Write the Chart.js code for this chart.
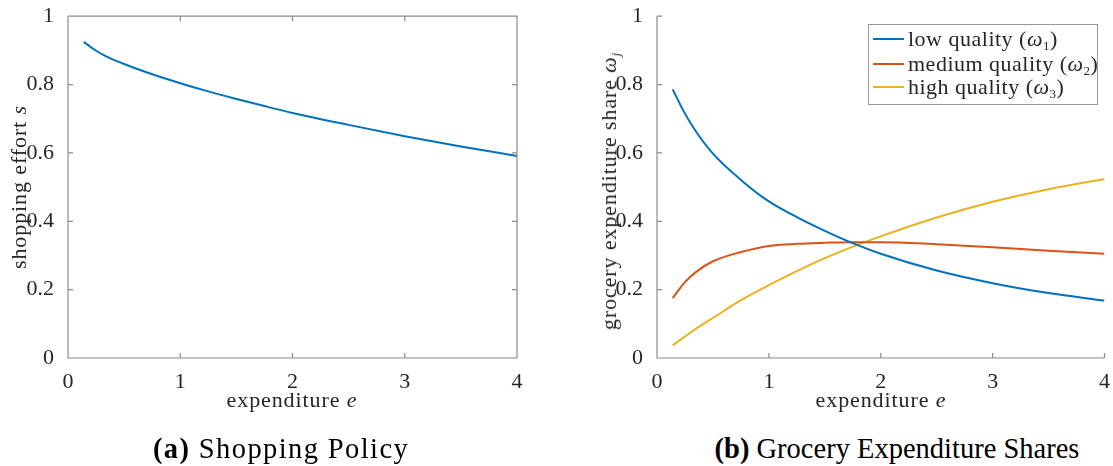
<!DOCTYPE html>
<html>
<head>
<meta charset="utf-8">
<script src="https://cdn.jsdelivr.net/npm/chart.js@4.4.0/dist/chart.umd.min.js"></script>
<style>
  html, body { margin:0; padding:0; background:#fff; }
  body { width:1113px; height:466px; position:relative; overflow:hidden;
         font-family:"Liberation Serif", serif; color:#262626; }
  .box { position:absolute; top:-3px; height:403px; }
  .lbl { position:absolute; font-size:22px; letter-spacing:0.9px; white-space:nowrap; transform:translate(-50%,-50%); }
  .rot { transform:translate(-50%,-50%) rotate(-90deg); }
  .cap { position:absolute; font-size:28.5px; color:#000; white-space:nowrap; transform:translate(-50%,-50%); }
  .legend { position:absolute; left:868px; top:24px; width:228px; height:79px;
            border:1px solid #999; background:#fff; font-size:22px; letter-spacing:0.5px; }
  .legend .row { position:absolute; left:4px; height:24px; display:flex; align-items:center; white-space:nowrap; }
  .legend .sw { width:31px; height:2px; margin-right:4px; }
  sub { font-size:13px; vertical-align:-4px; line-height:0; font-style:normal; }
</style>
</head>
<body>
<div class="box" style="left:0;width:560px"><canvas id="left"></canvas></div>
<div class="box" style="left:590px;width:523px"><canvas id="right"></canvas></div>

<div class="lbl rot" style="left:19px;top:187px">shopping effort <i>s</i></div>
<div class="lbl" style="left:292px;top:400px">expenditure <i>e</i></div>
<div class="lbl rot" style="left:609px;top:191px">grocery expenditure share <i>ω<sub style="font-style:italic">j</sub></i></div>
<div class="lbl" style="left:881px;top:400px">expenditure <i>e</i></div>

<div class="cap" style="left:281px;top:449px;letter-spacing:1.4px"><b>(a)</b> Shopping Policy</div>
<div class="cap" style="left:897px;top:449px"><b>(b)</b> Grocery Expenditure Shares</div>

<div class="legend">
  <div class="row" style="top:2px"><span class="sw" style="background:#0072BD"></span><span>low quality (<i>ω</i><sub>1</sub>)</span></div>
  <div class="row" style="top:27px"><span class="sw" style="background:#D95319"></span><span>medium quality (<i>ω</i><sub>2</sub>)</span></div>
  <div class="row" style="top:50px"><span class="sw" style="background:#EDB120"></span><span>high quality (<i>ω</i><sub>3</sub>)</span></div>
</div>

<script>
// values
const expenditure    = [0.14, 0.25, 0.35, 0.5, 0.75, 1, 1.25, 1.5, 1.75, 2, 2.5, 3, 3.5, 4];
const shoppingEffort = [0.925, 0.899, 0.881, 0.860, 0.830, 0.804, 0.780, 0.758, 0.737, 0.717, 0.682, 0.649, 0.619, 0.591];
const lowQuality     = [0.786, 0.715, 0.662, 0.598, 0.521, 0.458, 0.412, 0.372, 0.336, 0.305, 0.256, 0.219, 0.190, 0.168];
const mediumQuality  = [0.175, 0.222, 0.252, 0.283, 0.310, 0.328, 0.334, 0.337, 0.339, 0.339, 0.333, 0.324, 0.314, 0.305];
const highQuality    = [0.037, 0.063, 0.086, 0.117, 0.169, 0.213, 0.254, 0.292, 0.326, 0.356, 0.411, 0.457, 0.494, 0.524];
const xTicks = [0, 1, 2, 3, 4];
const yTicks = [0, 0.2, 0.4, 0.6, 0.8, 1];

const AXIS = '#8c8c8c';
const TEXT = '#262626';
const FONT = { family: 'Liberation Serif', size: 22 };

const pts = ys => expenditure.map((x, i) => ({ x, y: ys[i] }));

// MATLAB style axes: inward ticks, optional full box
function frame(boxed){
  return {
    id: 'frame',
    afterDraw(chart){
      const { ctx, chartArea: a, scales: { x, y } } = chart;
      ctx.save();
      ctx.strokeStyle = AXIS; ctx.lineWidth = 1.2;
      ctx.beginPath();
      ctx.moveTo(a.left, a.top); ctx.lineTo(a.left, a.bottom); ctx.lineTo(a.right, a.bottom);
      if(boxed){ ctx.lineTo(a.right, a.top); ctx.lineTo(a.left, a.top); }
      const L = 5;
      xTicks.forEach(v => {
        const px = x.getPixelForValue(v);
        ctx.moveTo(px, a.bottom); ctx.lineTo(px, a.bottom - L);
        if(boxed){ ctx.moveTo(px, a.top); ctx.lineTo(px, a.top + L); }
      });
      yTicks.forEach(v => {
        const py = y.getPixelForValue(v);
        ctx.moveTo(a.left, py); ctx.lineTo(a.left + L, py);
        if(boxed){ ctx.moveTo(a.right, py); ctx.lineTo(a.right - L, py); }
      });
      ctx.stroke();
      ctx.restore();
    }
  };
}

function buildPanel(canvasId, datasets, yWidth, rightPad, boxed){
  const ctx = document.getElementById(canvasId).getContext('2d');
  return new Chart(ctx, {
    type: 'line',
    data: { datasets: datasets.map(d => ({
      borderWidth: 2, pointRadius: 0, fill: false, cubicInterpolationMode: 'monotone', ...d
    })) },
    options: {
      responsive: true, maintainAspectRatio: false, animation: false,
      layout: { padding: { top: 16, right: rightPad, left: 0, bottom: 0 } },
      plugins: { legend: { display: false }, tooltip: { enabled: false } },
      scales: {
        x: {
          type: 'linear', min: 0, max: 4,
          grid: { display: false }, border: { display: false },
          afterBuildTicks: s => { s.ticks = xTicks.map(v => ({ value: v })); },
          afterFit: s => { s.height = 42; },
          ticks: { color: TEXT, font: FONT, padding: 3, maxRotation: 0, callback: v => String(v) }
        },
        y: {
          min: 0, max: 1,
          grid: { display: false }, border: { display: false },
          afterBuildTicks: s => { s.ticks = yTicks.map(v => ({ value: v })); },
          afterFit: s => { s.width = yWidth; },
          ticks: { color: TEXT, font: FONT, padding: 6, callback: v => String(v) }
        }
      }
    },
    plugins: [frame(boxed)]
  });
}

buildPanel('left', [
  { data: pts(shoppingEffort), borderColor: '#0072BD' }
], 68, 43, true);

buildPanel('right', [
  { data: pts(lowQuality), borderColor: '#0072BD' },
  { data: pts(mediumQuality), borderColor: '#D95319' },
  { data: pts(highQuality), borderColor: '#EDB120' }
], 67, 7, false);
</script>
</body>
</html>
